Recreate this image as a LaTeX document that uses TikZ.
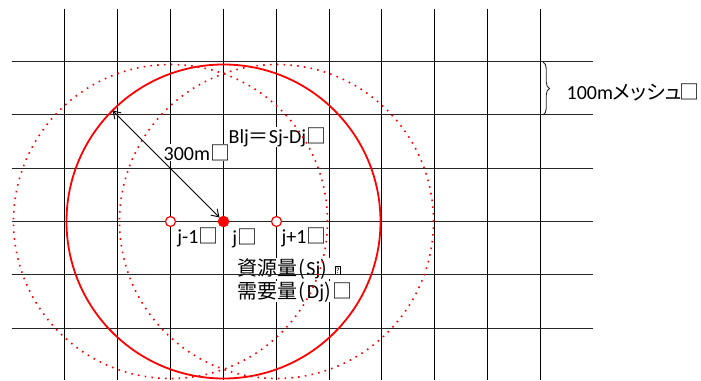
\documentclass[tikz,border=0pt]{standalone}
\usepackage{fontspec}
\setmainfont{Carlito}
\newfontfamily\jp{Noto Sans CJK JP}[RawFeature=+palt]
\usetikzlibrary{arrows.meta,decorations.pathreplacing,calc}
\newcommand{\qbox}{\makebox[20pt]{\raisebox{2pt}{\setlength{\fboxsep}{0.5pt}\setlength{\fboxrule}{0.6pt}\fbox{\fontsize{8}{8}\selectfont ?}}}}
\begin{document}
\begin{tikzpicture}[x=1pt,y=-1pt,
  vline/.style={black,line width=1pt},
  hline/.style={black!85,line width=1.1pt},
  txt/.style={inner sep=0.5pt,anchor=base west,fill=white,font=\fontsize{20}{24}\selectfont},
  solidcirc/.style={red,line width=1.8pt},
  dotcirc/.style={red,line width=1.6pt,dash pattern=on 1.6pt off 5.2pt},
  fulldot/.style={circle,draw=red,fill=red,inner sep=0pt,minimum size=11pt},
  opendot/.style={circle,draw=red,fill=white,line width=1.2pt,inner sep=0pt,minimum size=10pt},
  dimarrow/.style={{Straight Barb[length=7pt,width=9pt]}-{Straight Barb[length=7pt,width=9pt]},line width=0.9pt},
  bracestyle/.style={decorate,decoration={brace,amplitude=6.5pt},line width=0.9pt,black!85}
]
\useasboundingbox (0,0) rectangle (701,380);
% vertical grid lines
\foreach \xx in {64.5,117.5,170.5,223.5,276.5,329.5,381.5,434.5,487.5,540.5}
  \draw[vline] (\xx,9) -- (\xx,380);
% texts (white boxes hide the grid)
\node[txt] (blj) at (228,143) {Blj{\jp ＝}Sj-Dj{\jp □}};
\node[txt] (r300) at (163,160) {300m{\jp □}};
\node[txt] (jm1t) at (176.7,243) {j-1{\jp □}};
\node[txt] (j0t) at (231.7,244) {j{\jp □}};
\node[txt] (jp1t) at (281,243) {j+1{\jp □}};
\node[txt] (src) at (237,275) {{\jp 資源量}\kern1pt{\jp (}\kern1pt Sj\kern0.5pt{\jp )}\qbox};
\node[txt] (dem) at (237,298) {{\jp 需要量}\kern1pt{\jp (}\kern1.5pt Dj\kern0.5pt{\jp )}\kern1pt{\jp □}};
\node[txt] (mesh) at (566,99) {100m{\jp メッシュ}\kern-2pt{\jp □}};
% horizontal grid lines
\foreach \yy in {61.5,114.5,168.5,221.5,274.5,328.5}
  \draw[hline] (11.7,\yy) -- (593.3,\yy);
% centres
\coordinate (cjm1) at (170.5,221.5);
\coordinate (cj) at (223.5,221.5);
\coordinate (cjp1) at (276.5,221.5);
% circles
\draw[dotcirc] (cjm1) circle[radius=157pt];
\draw[dotcirc] (cjp1) circle[radius=157pt];
\draw[solidcirc] (cj) circle[radius=157pt];
% points
\node[opendot] (jm1) at (cjm1) {};
\node[opendot] (jp1) at (cjp1) {};
\node[fulldot] (j) at (cj) {};
% radius arrow
\coordinate (rim) at ($(cj)+(-111.0,-111.0)$);
\draw[dimarrow] (rim) -- (j);
% brace
\coordinate (b1) at (543,62);
\coordinate (b2) at (543,115);
\draw[bracestyle] (b1) -- (b2);
\end{tikzpicture}
\end{document}
